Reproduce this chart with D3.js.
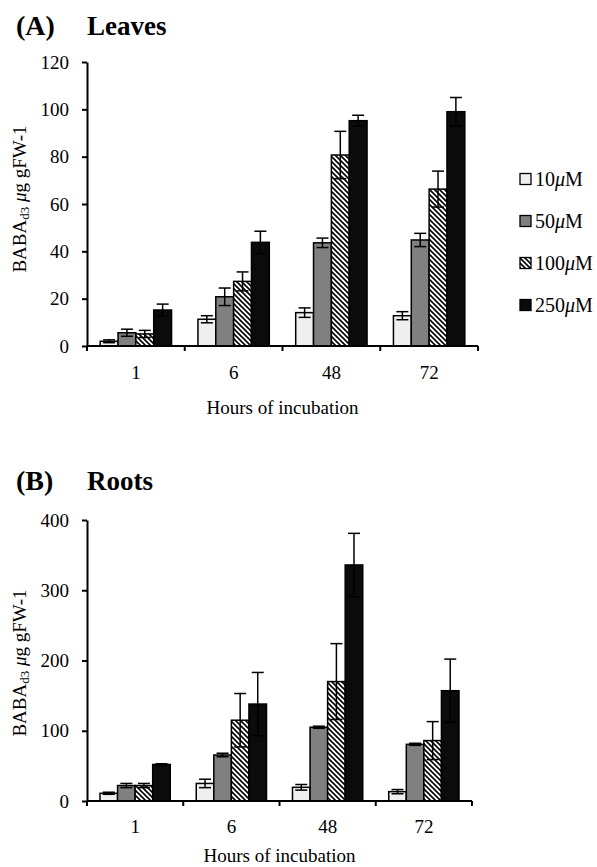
<!DOCTYPE html>
<html>
<head>
<meta charset="utf-8">
<script src="https://cdn.jsdelivr.net/npm/d3@7"></script>
<style>
  html, body { margin: 0; padding: 0; background: #fff; }
  svg { display: block; }
  text { font-family: "Liberation Serif", "Times New Roman", serif; fill: #000; }
</style>
</head>
<body>
<svg id="fig" width="597" height="867"></svg>
<script>
// Hours of incubation (x categories)
const categories = ["1", "6", "48", "72"];
// BABA concentrations (series)
const seriesNames = ["10", "50", "100", "250"];

// Leaves: mean and standard error per series, per time point
const leaves10 = [2.0, 11.3, 14.1, 12.8];
const leaves50 = [5.6, 20.8, 43.6, 44.8];
const leaves100 = [5.1, 27.3, 80.7, 66.3];
const leaves250 = [15.2, 43.8, 95.2, 99.0];
const leavesErr10 = [0.6, 1.5, 2.0, 1.7];
const leavesErr50 = [1.5, 3.7, 2.0, 2.8];
const leavesErr100 = [1.5, 4.0, 10.0, 7.6];
const leavesErr250 = [2.5, 4.7, 2.3, 6.0];

// Roots: mean and standard error per series, per time point
const roots10 = [11, 25, 19.5, 13.3];
const roots50 = [22, 65.5, 105, 80.7];
const roots100 = [22, 115, 170, 86];
const roots250 = [52, 138, 336, 157];
const rootsErr10 = [1.5, 6, 4, 3];
const rootsErr50 = [3, 2.5, 1.5, 1.5];
const rootsErr100 = [3, 38, 54, 27];
const rootsErr250 = [1, 45, 45, 45];

// Axis ticks
const leavesTicks = [0, 20, 40, 60, 80, 100, 120];
const rootsTicks = [0, 100, 200, 300, 400];

const svg = d3.select("#fig");

// Hatch pattern for the 100 µM series
const defs = svg.append("defs");
const pat = defs.append("pattern")
  .attr("id", "hatch")
  .attr("patternUnits", "userSpaceOnUse")
  .attr("width", 5).attr("height", 5);
pat.append("rect").attr("width", 5).attr("height", 5).attr("fill", "#fff");
pat.append("path")
  .attr("d", "M-1,-1 L6,6 M-1,4 L1,6 M4,-1 L6,1")
  .attr("stroke", "#000").attr("stroke-width", 1.6);

const fills = ["#efefef", "#808080", "url(#hatch)", "#0b0b0b"];

function panel(opts) {
  const { x0, x1, yTop, yBottom, max, ticks, means, errs, letter, title, titleY, labelY,
          tickLabelDy, axisTitleDy } = opts;

  const g = svg.append("g");

  // Panel heading
  g.append("text").attr("x", 16).attr("y", titleY)
    .attr("font-size", 28).attr("font-weight", "bold").text(letter);
  g.append("text").attr("x", 87).attr("y", titleY)
    .attr("font-size", 27).attr("font-weight", "bold").text(title);

  const x = d3.scaleBand().domain(categories).range([x0, x1])
    .paddingInner(0.27).paddingOuter(0.135);
  const xs = d3.scaleBand().domain(seriesNames).range([0, x.bandwidth()]).padding(0);
  const y = d3.scaleLinear().domain([0, max]).range([yBottom, yTop]);

  // Y axis
  const yAxis = d3.axisLeft(y).tickValues(ticks).tickSizeInner(5).tickSizeOuter(0).tickPadding(13);
  const ya = g.append("g").attr("transform", `translate(${x0},0)`).call(yAxis);
  ya.select(".domain").attr("stroke-width", 2);
  ya.selectAll(".tick line").attr("stroke-width", 2);
  ya.selectAll(".tick text").attr("font-size", 19)
    .attr("font-family", "Liberation Serif, Times New Roman, serif").attr("fill", "#000");

  // Bars
  const data = [];
  seriesNames.forEach((s, si) => {
    categories.forEach((c, ci) => {
      data.push({ s, si, c, v: means[si][ci], e: errs[si][ci] });
    });
  });

  g.selectAll("rect.bar").data(data).join("rect")
    .attr("class", "bar")
    .attr("x", d => x(d.c) + xs(d.s))
    .attr("y", d => y(d.v))
    .attr("width", xs.bandwidth())
    .attr("height", d => y(0) - y(d.v))
    .attr("fill", d => fills[d.si])
    .attr("stroke", "#000").attr("stroke-width", 1.5);

  // Error bars (mean ± SE)
  const cap = 6;
  const eb = g.selectAll("g.err").data(data).join("g").attr("class", "err")
    .attr("stroke", "#000").attr("stroke-width", 1.5);
  eb.append("line")
    .attr("x1", d => x(d.c) + xs(d.s) + xs.bandwidth() / 2)
    .attr("x2", d => x(d.c) + xs(d.s) + xs.bandwidth() / 2)
    .attr("y1", d => y(d.v - d.e)).attr("y2", d => y(d.v + d.e));
  eb.append("line")
    .attr("x1", d => x(d.c) + xs(d.s) + xs.bandwidth() / 2 - cap)
    .attr("x2", d => x(d.c) + xs(d.s) + xs.bandwidth() / 2 + cap)
    .attr("y1", d => y(d.v + d.e)).attr("y2", d => y(d.v + d.e));
  eb.append("line")
    .attr("x1", d => x(d.c) + xs(d.s) + xs.bandwidth() / 2 - cap)
    .attr("x2", d => x(d.c) + xs(d.s) + xs.bandwidth() / 2 + cap)
    .attr("y1", d => y(d.v - d.e)).attr("y2", d => y(d.v - d.e));

  // X axis: baseline, boundary ticks between groups, and category labels
  const xa = g.append("g").attr("transform", `translate(0,${yBottom})`);
  xa.append("line").attr("x1", x0).attr("x2", x1).attr("stroke", "#000").attr("stroke-width", 2);
  const bounds = categories.map(c => x(c) - x.step() * x.paddingInner() / 2);
  bounds.push(x1);
  xa.selectAll("line.bt").data(bounds).join("line").attr("class", "bt")
    .attr("x1", d => d).attr("x2", d => d).attr("y1", 0).attr("y2", 5)
    .attr("stroke", "#000").attr("stroke-width", 2);
  xa.selectAll("text.cl").data(categories).join("text").attr("class", "cl")
    .attr("x", d => x(d) + x.bandwidth() / 2).attr("y", tickLabelDy)
    .attr("text-anchor", "middle").attr("font-size", 19).text(d => d);
  xa.append("text").attr("x", (x0 + x1) / 2).attr("y", axisTitleDy)
    .attr("text-anchor", "middle").attr("font-size", 19).text("Hours of incubation");

  // Y axis title
  const yl = g.append("text")
    .attr("transform", `translate(26,${labelY}) rotate(-90)`)
    .attr("text-anchor", "middle").attr("font-size", 19);
  yl.append("tspan").text("BABA");
  yl.append("tspan").attr("font-size", 13).attr("dy", 3).text("d3");
  yl.append("tspan").attr("dy", -3).text(" ");
  yl.append("tspan").attr("font-style", "italic").text("μ");
  yl.append("tspan").text("g gFW-1");
}

panel({
  x0: 87, x1: 478, yTop: 62, yBottom: 346, max: 120, ticks: leavesTicks,
  means: [leaves10, leaves50, leaves100, leaves250],
  errs: [leavesErr10, leavesErr50, leavesErr100, leavesErr250],
  letter: "(A)", title: "Leaves", titleY: 35, labelY: 199,
  tickLabelDy: 33, axisTitleDy: 68
});

panel({
  x0: 87, x1: 472, yTop: 520, yBottom: 801, max: 400, ticks: rootsTicks,
  means: [roots10, roots50, roots100, roots250],
  errs: [rootsErr10, rootsErr50, rootsErr100, rootsErr250],
  letter: "(B)", title: "Roots", titleY: 490, labelY: 663,
  tickLabelDy: 32, axisTitleDy: 61
});

// Legend
const legend = svg.append("g");
const legendY = d3.scalePoint().domain(seriesNames).range([179, 305]);
seriesNames.forEach((s, i) => {
  const row = legend.append("g").attr("transform", `translate(0,${legendY(s)})`);
  row.append("rect").attr("x", 520).attr("y", -5.5).attr("width", 11).attr("height", 11)
    .attr("fill", fills[i]).attr("stroke", "#000").attr("stroke-width", 1.3);
  const t = row.append("text").attr("x", 535).attr("y", 7).attr("font-size", 20);
  t.append("tspan").text(s);
  t.append("tspan").attr("font-style", "italic").text("μ");
  t.append("tspan").text("M");
});
</script>
</body>
</html>
